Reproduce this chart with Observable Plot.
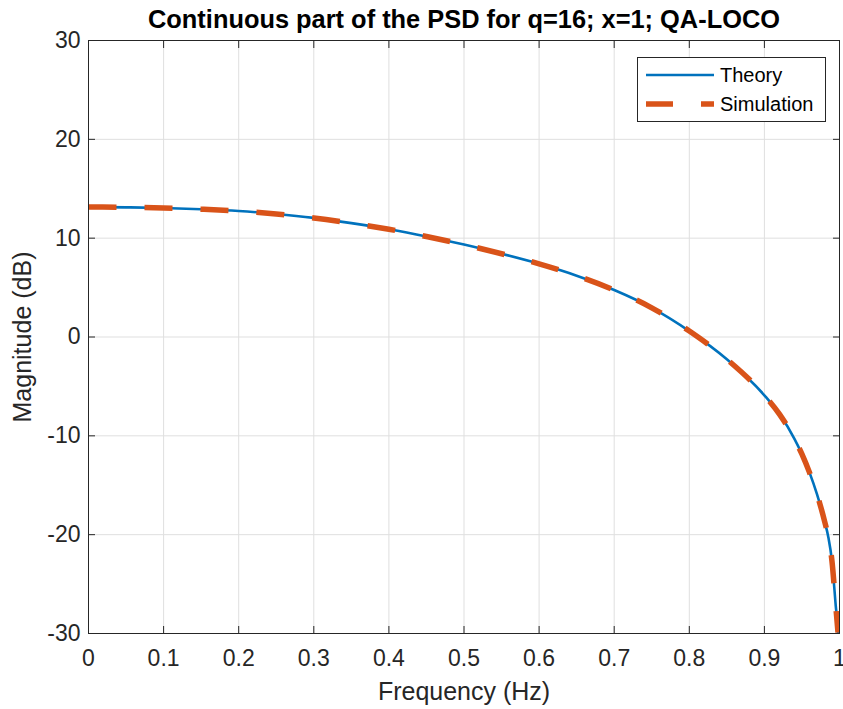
<!DOCTYPE html>
<html><head><meta charset="utf-8">
<script src="https://cdn.jsdelivr.net/npm/d3@7"></script>
<script src="https://cdn.jsdelivr.net/npm/@observablehq/plot@0.6"></script>
<style>
body{margin:0;background:#fff;}
#wrap{position:relative;width:843px;height:709px;font-family:"Liberation Sans",Arial,sans-serif;}
#legend{position:absolute;left:637px;top:57px;width:187px;height:63px;border:1px solid #262626;background:#fff;}
#legend svg{display:block;}
</style></head><body><div id="wrap"></div>
<script>
const titleText = "Continuous part of the PSD for q=16; x=1; QA-LOCO";
const xLabel = "Frequency (Hz)";
const yLabel = "Magnitude (dB)";
const seriesNames = ["Theory", "Simulation"];
const seriesColors = ["#0072BD", "#D95319"];

const freq = [0,0.05,0.1,0.15,0.2,0.25,0.3,0.35,0.4,0.45,0.5,0.55,0.6,0.65,0.7,0.75,0.8,0.85,0.9,0.92,0.94,0.95,0.96,0.97,0.98,0.985,0.99,0.995,0.998,1.0];
const theoryDb = [13.15,13.12,13.05,12.93,12.75,12.45,12.05,11.52,10.9,10.17,9.35,8.42,7.4,6.2,4.75,2.95,0.6,-2.25,-5.9,-7.8,-10.3,-11.85,-13.7,-15.9,-18.6,-20.2,-22.7,-27.2,-29.9,-36];

const simFreq = [0,0.05,0.1,0.15,0.2,0.25,0.3,0.35,0.4,0.45,0.5,0.55,0.6,0.65,0.7,0.75,0.8,0.85,0.9,0.92,0.94,0.95,0.96,0.97,0.98,0.985,0.99,0.995,0.998];
const simDb = [13.15,13.12,13.05,12.93,12.75,12.45,12.05,11.52,10.9,10.17,9.35,8.42,7.4,6.2,4.75,2.95,0.6,-2.25,-5.9,-7.8,-10.3,-11.85,-13.7,-15.9,-18.6,-20.2,-22.7,-27.2,-29.9];

const xTicks = [0,0.1,0.2,0.3,0.4,0.5,0.6,0.7,0.8,0.9,1];
const xTickLabels = ["0","0.1","0.2","0.3","0.4","0.5","0.6","0.7","0.8","0.9","1"];
const yTicks = [-30,-20,-10,0,10,20,30];
const yTickLabels = ["-30","-20","-10","0","10","20","30"];

const theory = freq.map((f, i) => ({f, v: theoryDb[i]}));
const sim = simFreq.map((f, i) => ({f, v: simDb[i]}));
const ink = "#262626";
const fmtX = d => xTickLabels[xTicks.indexOf(d)];
const fmtY = d => yTickLabels[yTicks.indexOf(d)];

const chart = Plot.plot({
  width: 843, height: 709,
  marginLeft: 88, marginRight: 4, marginTop: 40, marginBottom: 76,
  style: {fontFamily: '"Liberation Sans", Arial, sans-serif', color: ink, background: "#fff"},
  x: {domain: [0, 1], ticks: xTicks},
  y: {domain: [-30, 30], ticks: yTicks},
  marks: [
    Plot.gridX(xTicks, {stroke: "#dfdfdf", strokeOpacity: 1}),
    Plot.gridY(yTicks, {stroke: "#dfdfdf", strokeOpacity: 1}),
    Plot.line(theory, {x: "f", y: "v", stroke: seriesColors[0], strokeWidth: 2.6, curve: "monotone-x", clip: true}),
    Plot.line(sim, {x: "f", y: "v", stroke: seriesColors[1], strokeWidth: 5.5, strokeDasharray: "28,28", strokeLinecap: "butt", curve: "monotone-x", clip: true}),
    Plot.frame({stroke: ink, strokeWidth: 1}),
    Plot.axisX(xTicks, {anchor: "bottom", tickSize: -7, tickFormat: () => "", label: null, stroke: ink}),
    Plot.axisX(xTicks, {anchor: "top", tickSize: -7, tickFormat: () => "", label: null, stroke: ink}),
    Plot.axisY(yTicks, {anchor: "left", tickSize: -7, tickFormat: () => "", label: null, stroke: ink}),
    Plot.axisY(yTicks, {anchor: "right", tickSize: -7, tickFormat: () => "", label: null, stroke: ink}),
    Plot.axisX(xTicks, {anchor: "bottom", tickSize: 0, tickPadding: 16, tickFormat: fmtX, label: null, fontSize: 23, fill: ink}),
    Plot.axisY(yTicks, {anchor: "left", tickSize: 0, tickPadding: 8, tickFormat: fmtY, label: null, fontSize: 23, fill: ink}),
    Plot.text([titleText], {text: d => d, frameAnchor: "top", dy: -21, fontSize: 25.4, fontWeight: "bold", fill: "#000", lineAnchor: "middle"}),
    Plot.text([xLabel], {text: d => d, frameAnchor: "bottom", dy: 58, fontSize: 25, fill: ink, lineAnchor: "middle"}),
    Plot.text([yLabel], {text: d => d, frameAnchor: "left", dx: -66, rotate: -90, fontSize: 25, fill: ink, lineAnchor: "middle", textAnchor: "middle"})
  ]
});
const wrap = document.getElementById("wrap");
wrap.appendChild(chart);

const leg = document.createElement("div");
leg.id = "legend";
wrap.appendChild(leg);
const ls = d3.select(leg).append("svg").attr("width", 187).attr("height", 63);
seriesNames.forEach((name, i) => {
  const y = i === 0 ? 17 : 46;
  ls.append("line").attr("x1", 8).attr("x2", 76).attr("y1", y).attr("y2", y)
    .attr("stroke", seriesColors[i]).attr("stroke-width", i === 0 ? 2.6 : 5.5)
    .attr("stroke-dasharray", i === 0 ? null : "27,28");
  ls.append("text").attr("x", 82).attr("y", y).attr("dy", "0.36em")
    .attr("font-size", 20).attr("fill", "#000")
    .attr("font-family", '"Liberation Sans", Arial, sans-serif').text(name);
});
</script>
</body></html>
